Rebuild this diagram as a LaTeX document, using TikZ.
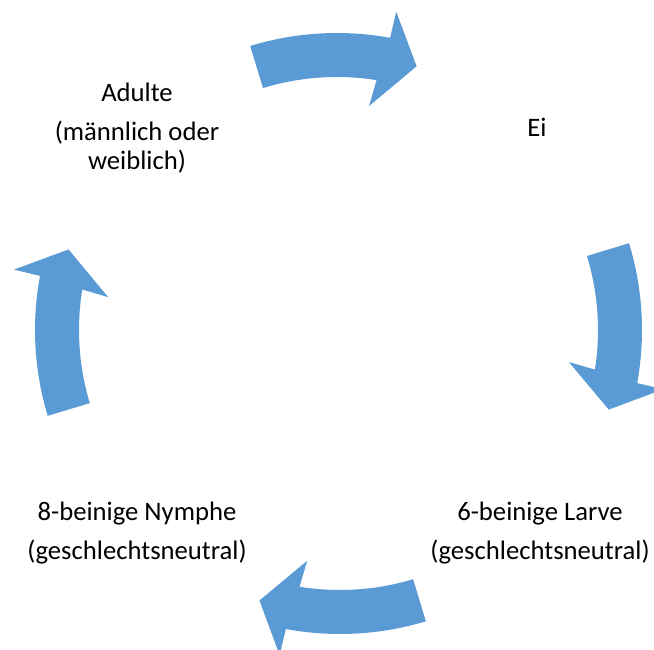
\documentclass[tikz,border=0pt]{standalone}
\usepackage{fontspec}
\setmainfont{Carlito}
\usetikzlibrary{calc}
\definecolor{arrowblue}{HTML}{5B9BD5}
\newcommand\cycarrow[3]{%
  \fill[arrowblue] ($(#1,#2)+(#3:297)$) arc[start angle=#3, end angle=#3-27.3, radius=297]
   -- ($(#1,#2)+(#3-27.55:323.7)$) -- ($(#1,#2)+(#3-33.8:275.5)$) -- ($(#1,#2)+(#3-25.15:226.2)$)
   -- ($(#1,#2)+(#3-26.0:253)$) arc[start angle=#3-26.0, end angle=#3, radius=253] -- cycle;}
\begin{document}
\begin{tikzpicture}[x=0.75pt,y=0.75pt,
  lbl/.style={font=\fontsize{20}{24}\selectfont, inner sep=0pt, anchor=base, text=black}]
\clip (0,0) rectangle (654,650);
\cycarrow{337}{320}{107}
\cycarrow{345}{320}{17}
\cycarrow{340}{313}{-73.2}
\cycarrow{332}{320}{196.8}
\node[lbl] (adulte) at (137,548.5) {Adulte};
\node[lbl] (maennlich) at (137,509) {(männlich oder};
\node[lbl] (weiblich) at (137,480) {weiblich)};
\node[lbl] (ei) at (537,513.5) {Ei};
\node[lbl] (larve) at (540,129) {6-beinige Larve};
\node[lbl] (larveg) at (540,90) {(geschlechtsneutral)};
\node[lbl] (nymphe) at (137,129) {8-beinige Nymphe};
\node[lbl] (nympheg) at (137,90) {(geschlechtsneutral)};
\end{tikzpicture}
\end{document}
